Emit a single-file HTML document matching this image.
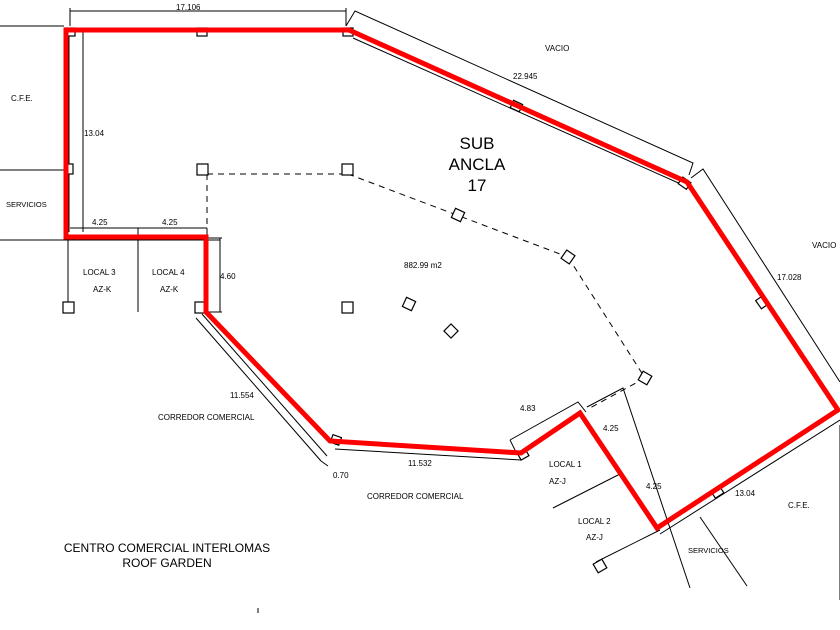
<!DOCTYPE html>
<html><head><meta charset="utf-8"><style>
html,body{margin:0;padding:0;background:#fff;}
svg{display:block}
text{font-family:"Liberation Sans",sans-serif;fill:#000}
</style></head><body>
<svg width="840" height="630" viewBox="0 0 840 630" xmlns="http://www.w3.org/2000/svg">
<g stroke="#000" stroke-width="1" fill="none">
<line x1="0" y1="26" x2="64" y2="26"/>
<line x1="0" y1="170" x2="64" y2="170"/>
<line x1="0" y1="240" x2="220" y2="240"/>
<line x1="69" y1="30" x2="69" y2="232"/>
<line x1="83" y1="30" x2="83" y2="232"/>
<line x1="68" y1="240" x2="68" y2="303"/>
<line x1="138" y1="228" x2="138" y2="312"/>
<line x1="70" y1="11" x2="346" y2="11"/>
<line x1="70" y1="8" x2="70" y2="26"/>
<line x1="346" y1="8" x2="346" y2="26"/>
<line x1="70" y1="228" x2="207" y2="228"/>
<line x1="207" y1="228" x2="207" y2="236"/>
<line x1="220" y1="238" x2="220" y2="312"/>
<line x1="205" y1="238" x2="222" y2="238"/>
<line x1="205" y1="312" x2="222" y2="312"/>
<polyline points="346,26 355,11 693,163 689,175"/>
<polyline points="691,178 703,169 840,382"/>
<line x1="353" y1="38" x2="683" y2="185"/>
<line x1="196" y1="318" x2="321" y2="461"/>
<line x1="202" y1="314" x2="327" y2="456"/>
<line x1="321" y1="461" x2="328" y2="466"/>
<line x1="335" y1="449" x2="521" y2="460"/>
<polyline points="510,440 578,402 586,412"/>
<line x1="510" y1="440" x2="516" y2="452"/>
<polyline points="587,407 623,388 690,588"/>
<line x1="553" y1="508" x2="620" y2="474"/>
<line x1="596" y1="562" x2="660" y2="530"/>
<line x1="660" y1="534" x2="840" y2="420"/>
<line x1="700" y1="517" x2="747" y2="586"/>
<line x1="840" y1="425" x2="840" y2="600"/>
</g>
<g stroke="#000" stroke-width="1" fill="none" stroke-dasharray="6,5">
<line x1="207" y1="174" x2="348" y2="174"/>
<line x1="207" y1="174" x2="207" y2="230"/>
<line x1="348" y1="174" x2="568" y2="257"/>
<line x1="568" y1="257" x2="645" y2="378"/>
<line x1="645" y1="378" x2="590" y2="408"/>
</g>
<g stroke="#000" stroke-width="1.2" fill="#fff">
<rect x="65" y="28" width="10" height="8"/>
<rect x="197" y="28" width="10" height="8"/>
<rect x="343" y="28" width="10" height="8"/>
<rect x="66" y="164" width="7" height="10"/>
<rect x="197" y="164" width="11" height="11"/>
<rect x="342" y="164" width="11" height="11"/>
<rect x="63" y="302" width="11" height="11"/>
<rect x="195" y="302" width="11" height="11"/>
<rect x="342" y="302" width="11" height="11"/>
<rect x="-5" y="-5" width="10" height="10" transform="translate(458,215) rotate(25)"/>
<rect x="-5" y="-5" width="10" height="10" transform="translate(568,257) rotate(35)"/>
<rect x="-5" y="-5" width="10" height="10" transform="translate(409,304) rotate(25)"/>
<rect x="-5" y="-5" width="10" height="10" transform="translate(451,331) rotate(45)"/>
<rect x="-5" y="-5" width="10" height="10" transform="translate(645,378) rotate(30)"/>
<rect x="-5" y="-5" width="10" height="8" transform="translate(516,107) rotate(25)"/>
<rect x="-5" y="-5" width="10" height="8" transform="translate(684,184) rotate(35)"/>
<rect x="-5" y="-5" width="10" height="8" transform="translate(761,303) rotate(55)"/>
<rect x="-5" y="-5" width="10" height="8" transform="translate(718,493) rotate(-33)"/>
<rect x="-5" y="-5" width="10" height="10" transform="translate(600,566) rotate(-30)"/>
<rect x="-5" y="-5" width="9" height="8" transform="translate(524,455) rotate(-30)"/>
<rect x="-5" y="-5" width="9" height="8" transform="translate(336,441) rotate(20)"/>
</g>
<polygon points="66,30 349,30 687,182 838,410 657,528 580,413 521,453 330,441 206,312 206,237 66,237" fill="none" stroke="#ff0000" stroke-width="5" stroke-linejoin="miter"/>
<g font-size="8">
<text x="176" y="10">17.106</text>
<text x="11" y="101">C.F.E.</text>
<text x="84" y="136">13.04</text>
<text x="6" y="207" font-size="7.5">SERVICIOS</text>
<text x="92" y="225">4.25</text>
<text x="162" y="225">4.25</text>
<text x="83" y="275">LOCAL  3</text>
<text x="93" y="292">AZ-K</text>
<text x="152" y="275">LOCAL  4</text>
<text x="160" y="292">AZ-K</text>
<text x="220" y="279">4.60</text>
<text x="545" y="51">VACIO</text>
<text x="513" y="79">22.945</text>
<text x="812" y="248">VACIO</text>
<text x="777" y="280">17.028</text>
<text x="404" y="268">882.99  m2</text>
<text x="230" y="398">11.554</text>
<text x="158" y="420">CORREDOR  COMERCIAL</text>
<text x="333" y="478">0.70</text>
<text x="408" y="466">11.532</text>
<text x="367" y="499">CORREDOR  COMERCIAL</text>
<text x="520" y="411">4.83</text>
<text x="603" y="431">4.25</text>
<text x="549" y="467">LOCAL  1</text>
<text x="549" y="484">AZ-J</text>
<text x="646" y="489">4.25</text>
<text x="578" y="524">LOCAL  2</text>
<text x="586" y="540">AZ-J</text>
<text x="735" y="496">13.04</text>
<text x="688" y="553" font-size="7.5">SERVICIOS</text>
<text x="788" y="508">C.F.E.</text>
</g>
<g font-size="17" text-anchor="middle">
<text x="477" y="149">SUB</text>
<text x="477" y="170">ANCLA</text>
<text x="477" y="191">17</text>
</g>
<g font-size="12" text-anchor="middle">
<text x="167" y="552">CENTRO COMERCIAL INTERLOMAS</text>
<text x="167" y="567">ROOF GARDEN</text>
</g>
<line x1="258" y1="608" x2="258" y2="613" stroke="#000"/>
</svg>
</body></html>
